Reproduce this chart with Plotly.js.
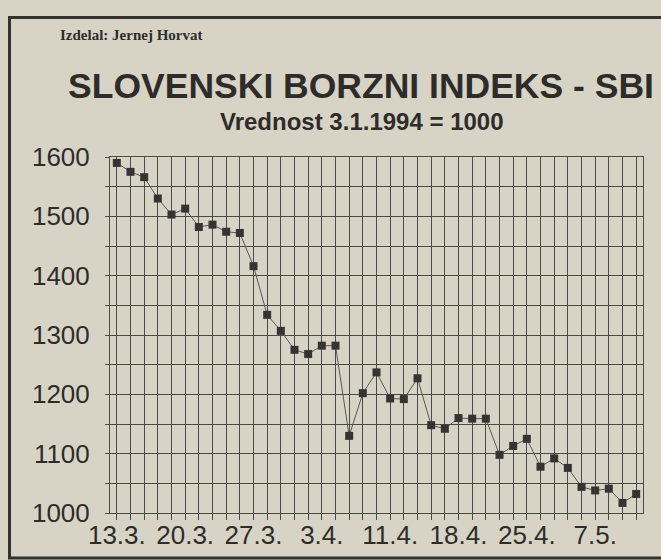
<!DOCTYPE html>
<html>
<head>
<meta charset="utf-8">
<script src="https://cdn.plot.ly/plotly-3.0.1.min.js"></script>
<style>
  html, body { margin: 0; padding: 0; background: #d7d4c6; }
  #chart { width: 661px; height: 560px; }
</style>
</head>
<body>
<div id="chart"></div>
<script>
// ---- data ----
const sbiValues = [1590, 1575, 1566, 1530, 1503, 1513, 1482, 1486, 1474, 1472,
                   1416, 1334, 1307, 1275, 1268, 1282, 1282, 1130, 1202, 1237,
                   1193, 1192, 1227, 1148, 1142, 1160, 1159, 1159, 1098, 1113,
                   1125, 1078, 1092, 1076, 1044, 1038, 1041, 1017, 1032];
const dateLabels = ['13.3.', '20.3.', '27.3.', '3.4.', '11.4.', '18.4.', '25.4.', '7.5.'];
const dateLabelIdx = [0, 5, 10, 15, 20, 25, 30, 35];
const yTickVals = [1000, 1050, 1100, 1150, 1200, 1250, 1300, 1350, 1400, 1450, 1500, 1550, 1600];
const yTickText = ['1000', '', '1100', '', '1200', '', '1300', '', '1400', '', '1500', '', '1600'];

const titleText = 'SLOVENSKI BORZNI INDEKS - SBI';
const subtitleText = 'Vrednost 3.1.1994 = 1000';
const authorText = 'Izdelal: Jernej Horvat';

// ---- derived ----
const dayIdx = sbiValues.map((_, i) => i);
const xTickText = dayIdx.map(i => {
  const k = dateLabelIdx.indexOf(i);
  return k >= 0 ? dateLabels[k] : '';
});

// ---- layout geometry (pixels) ----
const W = 661, H = 560;
const M = { l: 110, r: 18, t: 157, b: 47 };
const pw = W - M.l - M.r, ph = H - M.t - M.b;
const px = x => (x - M.l) / pw;
const py = y => (H - M.b - y) / ph;

const ink = '#2e2c2a';
const gridCol = '#4c4a46';
const bg = '#d7d4c6';
const sans = 'Liberation Sans, Arial, sans-serif';

const trace = {
  type: 'scatter',
  mode: 'lines+markers',
  x: dayIdx,
  y: sbiValues,
  line: { color: '#5a5855', width: 1 },
  marker: { symbol: 'square', size: 8, color: '#363432', line: { width: 0 } },
  hoverinfo: 'x+y'
};

const layout = {
  width: W, height: H,
  margin: M,
  paper_bgcolor: bg,
  plot_bgcolor: bg,
  showlegend: false,
  title: {
    text: titleText,
    font: { family: sans, size: 35.5, color: ink, weight: 'bold' },
    xref: 'container', yref: 'container',
    x: 361 / W, xanchor: 'center',
    y: 1 - 86 / H, yanchor: 'middle'
  },
  xaxis: {
    range: [-0.5, sbiValues.length - 0.5],
    tickmode: 'array',
    tickvals: dayIdx,
    ticktext: xTickText,
    ticks: 'outside', ticklen: 6, tickwidth: 1, tickcolor: gridCol,
    showgrid: true, gridcolor: gridCol, gridwidth: 1,
    showline: true, linecolor: gridCol, linewidth: 1, mirror: true,
    zeroline: false,
    tickfont: { family: sans, size: 26, color: ink },
    ticklabelstandoff: -7,
    tickangle: 0,
    fixedrange: true
  },
  yaxis: {
    range: [1000, 1600],
    tickmode: 'array',
    tickvals: yTickVals,
    ticktext: yTickText,
    ticks: 'outside', ticklen: 4, tickwidth: 1, tickcolor: gridCol,
    showgrid: true, gridcolor: gridCol, gridwidth: 1,
    showline: true, linecolor: gridCol, linewidth: 1, mirror: true,
    zeroline: false,
    tickfont: { family: sans, size: 26, color: ink },
    ticklabelstandoff: 10,
    fixedrange: true
  },
  annotations: [
    {
      text: subtitleText, showarrow: false,
      xref: 'paper', yref: 'paper',
      x: px(362), xanchor: 'center',
      y: py(121), yanchor: 'middle',
      font: { family: sans, size: 24, color: ink, weight: 'bold' }
    },
    {
      text: authorText, showarrow: false,
      xref: 'paper', yref: 'paper',
      x: px(58), xanchor: 'left',
      y: py(35), yanchor: 'middle',
      font: { family: 'Liberation Serif, Times New Roman, serif', size: 15, color: ink, weight: 'bold' }
    }
  ],
  shapes: [
    {
      type: 'rect', xref: 'paper', yref: 'paper',
      x0: px(9.5), x1: px(700), y0: py(558), y1: py(17.5),
      line: { color: '#34322f', width: 3 },
      fillcolor: 'rgba(0,0,0,0)', layer: 'below'
    }
  ]
};

Plotly.newPlot('chart', [trace], layout, { displayModeBar: false, staticPlot: true });
</script>
</body>
</html>
